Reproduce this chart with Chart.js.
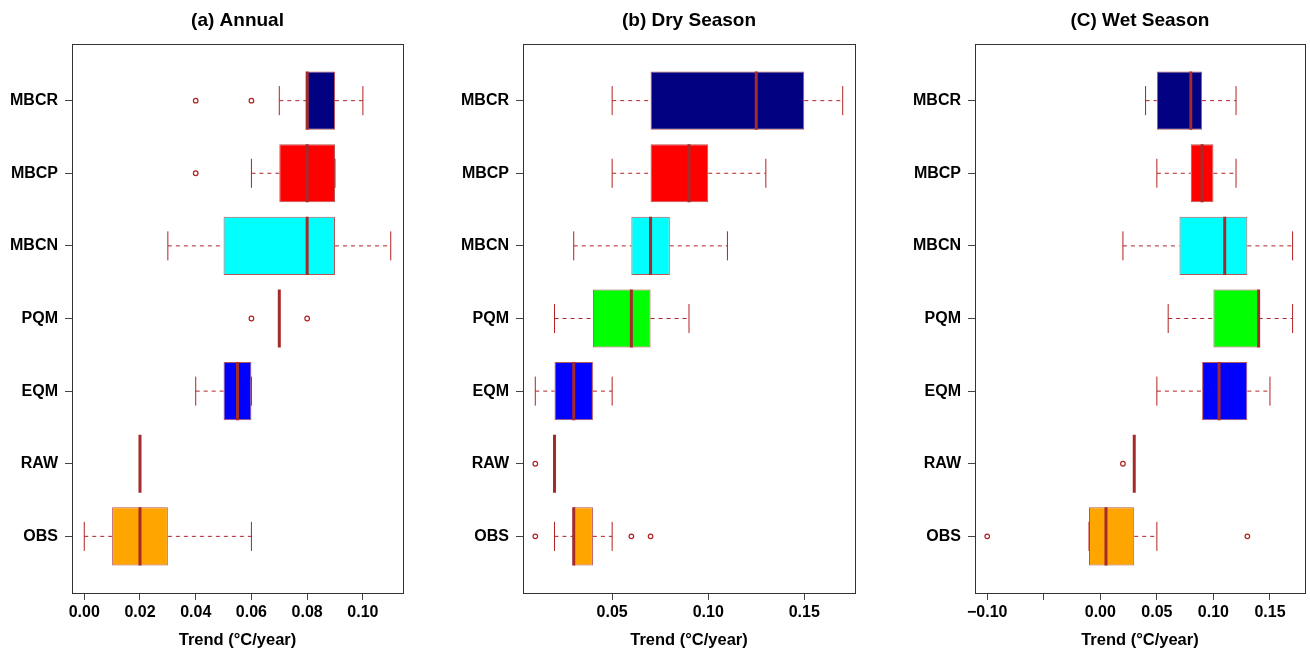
<!DOCTYPE html>
<html>
<head>
<meta charset="utf-8">
<script src="https://cdn.jsdelivr.net/npm/chart.js@4/dist/chart.umd.min.js"></script>
<style>
  html, body { margin: 0; padding: 0; background: #ffffff; }
  body { width: 1310px; height: 651px; position: relative; overflow: hidden; }
  .panel { position: absolute; top: 0; height: 651px; }
</style>
</head>
<body>
<div class="panel" style="left:0px;width:437px;"><canvas id="cA"></canvas></div>
<div class="panel" style="left:437px;width:436px;"><canvas id="cB"></canvas></div>
<div class="panel" style="left:873px;width:437px;"><canvas id="cC"></canvas></div>
<script>
// ---- Categories (bottom to top) ----
const categories = ['OBS', 'RAW', 'EQM', 'PQM', 'MBCN', 'MBCP', 'MBCR'];
const boxColors  = ['#FFA500', '#FFFF00', '#0000FF', '#00FF00', '#00FFFF', '#FF0000', '#000080'];

// ---- (a) Annual ----
const annualQ1  = [0.01, 0.02, 0.05,  0.07, 0.05, 0.07, 0.08];
const annualMed = [0.02, 0.02, 0.055, 0.07, 0.08, 0.08, 0.08];
const annualQ3  = [0.03, 0.02, 0.06,  0.07, 0.09, 0.09, 0.09];
const annualLo  = [0.00, 0.02, 0.04,  0.07, 0.03, 0.06, 0.07];
const annualHi  = [0.06, 0.02, 0.06,  0.07, 0.11, 0.09, 0.10];
const annualOut = [[], [], [], [0.06, 0.08], [], [0.04], [0.04, 0.06]];
const annualTicks  = [0.00, 0.02, 0.04, 0.06, 0.08, 0.10];
const annualLabels = ['0.00', '0.02', '0.04', '0.06', '0.08', '0.10'];

// ---- (b) Dry Season ----
const dryQ1  = [0.03, 0.02, 0.02, 0.04, 0.06, 0.07, 0.07];
const dryMed = [0.03, 0.02, 0.03, 0.06, 0.07, 0.09, 0.125];
const dryQ3  = [0.04, 0.02, 0.04, 0.07, 0.08, 0.10, 0.15];
const dryLo  = [0.02, 0.02, 0.01, 0.02, 0.03, 0.05, 0.05];
const dryHi  = [0.05, 0.02, 0.05, 0.09, 0.11, 0.13, 0.17];
const dryOut = [[0.01, 0.06, 0.07], [0.01], [], [], [], [], []];
const dryTicks  = [0.05, 0.10, 0.15];
const dryLabels = ['0.05', '0.10', '0.15'];

// ---- (C) Wet Season ----
const wetQ1  = [-0.01, 0.03, 0.09,  0.10, 0.07, 0.08, 0.05];
const wetMed = [0.005, 0.03, 0.105, 0.14, 0.11, 0.09, 0.08];
const wetQ3  = [0.03,  0.03, 0.13,  0.14, 0.13, 0.10, 0.09];
const wetLo  = [-0.01, 0.03, 0.05,  0.06, 0.02, 0.05, 0.04];
const wetHi  = [0.05,  0.03, 0.15,  0.17, 0.17, 0.12, 0.12];
const wetOut = [[-0.10, 0.13], [0.02], [], [], [], [], []];
const wetTicks  = [-0.10, -0.05, 0.00, 0.05, 0.10, 0.15];
const wetLabels = ['\u22120.10', '', '0.00', '0.05', '0.10', '0.15'];

const FONT = "'Liberation Sans', Arial, Helvetica, sans-serif";
const BORDER = 'rgba(165,42,42,0.8)';
const WHISK  = '#B22222';
const MEDIAN = '#A52A2A';
const FRAME  = '#333333';

const framePlugin = {
  id: 'frame',
  afterDraw(chart) {
    const a = chart.chartArea, ctx = chart.ctx;
    ctx.save();
    ctx.strokeStyle = FRAME;
    ctx.lineWidth = 1;
    ctx.strokeRect(Math.round(a.left) + 0.5, Math.round(a.top) + 0.5,
                   Math.round(a.right - a.left), Math.round(a.bottom - a.top));
    ctx.restore();
  }
};

function makePanel(id, title, q1, med, q3, lo, hi, out, tickVals, tickLabels, yWidth, padRight) {
  const n = categories.length;
  const gap = { x: null, y: null };
  const boxes = [], whiskers = [], caps = [], medians = [], outliers = [];
  for (let i = 0; i < n; i++) {
    const y = i + 1;
    boxes.push({ x: [q1[i], q3[i]], y: y });
    whiskers.push({ x: lo[i], y: y }, { x: q1[i], y: y }, gap, { x: q3[i], y: y }, { x: hi[i], y: y }, gap);
    caps.push({ x: lo[i], y: y - 0.2 }, { x: lo[i], y: y + 0.2 }, gap, { x: hi[i], y: y - 0.2 }, { x: hi[i], y: y + 0.2 }, gap);
    medians.push({ x: med[i], y: y - 0.4 }, { x: med[i], y: y + 0.4 }, gap);
    out[i].forEach(v => outliers.push({ x: v, y: y }));
  }
  const all = lo.concat(hi, out.flat());
  const dmin = Math.min(...all), dmax = Math.max(...all);
  const ext = (dmax - dmin) * 0.04;

  new Chart(document.getElementById(id), {
    type: 'bar',
    data: {
      datasets: [
        { type: 'bar', data: boxes, backgroundColor: boxColors, borderColor: BORDER,
          borderWidth: 1, borderSkipped: false, categoryPercentage: 1.0, barPercentage: 0.8, order: 5 },
        { type: 'line', data: whiskers, borderColor: WHISK, borderWidth: 1, borderDash: [4, 4],
          pointRadius: 0, spanGaps: false, fill: false, order: 4 },
        { type: 'line', data: caps, borderColor: WHISK, borderWidth: 1,
          pointRadius: 0, spanGaps: false, fill: false, order: 3 },
        { type: 'line', data: outliers, showLine: false, pointRadius: 2.3, pointBorderWidth: 1.2,
          pointBorderColor: WHISK, pointBackgroundColor: 'rgba(255,255,255,0)', order: 2 },
        { type: 'line', data: medians, borderColor: MEDIAN, borderWidth: 3, borderCapStyle: 'butt',
          pointRadius: 0, spanGaps: false, fill: false, order: 1 }
      ]
    },
    options: {
      indexAxis: 'y',
      responsive: true,
      maintainAspectRatio: false,
      animation: false,
      events: [],
      layout: { padding: { left: 0, right: padRight, top: 0, bottom: 0 } },
      plugins: {
        legend: { display: false },
        tooltip: { enabled: false },
        title: {
          display: true, text: title, fullSize: false, color: '#000',
          font: { family: FONT, size: 19, weight: 'bold', lineHeight: 1.2 },
          padding: { top: 9, bottom: 12.2 }
        }
      },
      scales: {
        x: {
          type: 'linear', position: 'bottom', offset: false,
          min: dmin - ext, max: dmax + ext,
          afterBuildTicks: s => { s.ticks = tickVals.map(v => ({ value: v })); },
          afterFit: s => { s.height = 58; },
          ticks: {
            autoSkip: false, maxRotation: 0, padding: 3, color: '#000',
            font: { family: FONT, size: 16, weight: 'bold' },
            callback: (v, idx) => tickLabels[idx]
          },
          grid: { drawOnChartArea: false, drawTicks: true, tickLength: 7, color: '#444', tickWidth: 1, offset: false },
          border: { display: false },
          title: {
            display: true, text: 'Trend (\u00B0C/year)', color: '#000',
            font: { family: FONT, size: 16.5, weight: 'bold', lineHeight: 1.2 },
            padding: { top: 4, bottom: 1 }
          }
        },
        y: {
          type: 'linear', position: 'left', offset: false,
          min: 0.5 - 0.04 * n, max: n + 0.5 + 0.04 * n,
          afterBuildTicks: s => { s.ticks = categories.map((c, i) => ({ value: i + 1 })); },
          afterFit: s => { s.width = yWidth; },
          ticks: {
            autoSkip: false, padding: 7, color: '#000',
            font: { family: FONT, size: 16, weight: 'bold' },
            callback: (v, idx) => categories[idx]
          },
          grid: { drawOnChartArea: false, drawTicks: true, tickLength: 7, color: '#444', tickWidth: 1, offset: false },
          border: { display: false }
        }
      }
    },
    plugins: [framePlugin]
  });
}

makePanel('cA', '(a) Annual', annualQ1, annualMed, annualQ3, annualLo, annualHi, annualOut,
          annualTicks, annualLabels, 72, 34);
makePanel('cB', '(b) Dry Season', dryQ1, dryMed, dryQ3, dryLo, dryHi, dryOut,
          dryTicks, dryLabels, 86, 18);
makePanel('cC', '(C) Wet Season', wetQ1, wetMed, wetQ3, wetLo, wetHi, wetOut,
          wetTicks, wetLabels, 102, 4);
</script>
</body>
</html>
